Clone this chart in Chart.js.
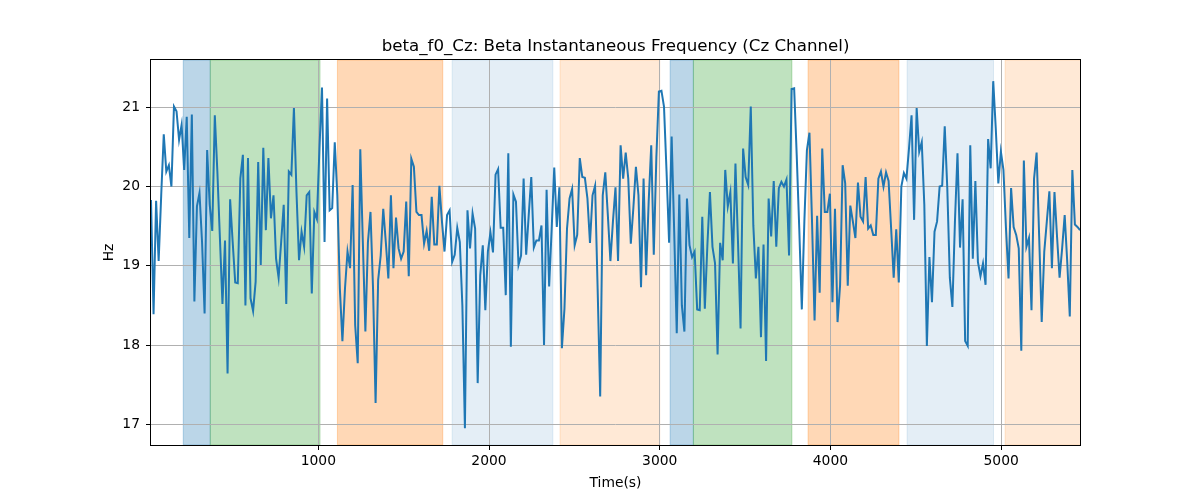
<!DOCTYPE html>
<html>
<head>
<meta charset="utf-8">
<script src="https://cdn.jsdelivr.net/npm/chart.js@4.4.1/dist/chart.umd.min.js"></script>
<style>
  html, body { margin: 0; padding: 0; background: #fff; }
</style>
</head>
<body>
<canvas id="chart" width="1200" height="500"></canvas>
<script>
// time axis: first sample, sample spacing (s)
const tStart = 20;
const tStep = 14.95;

const freq1 = [19.83, 18.39, 19.82, 19.06, 19.89, 20.66, 20.19, 20.27, 20.0, 21.01, 20.95, 20.59, 20.78, 20.21, 20.88, 19.35, 20.91, 18.55, 19.75, 19.92, 19.3, 18.4, 20.46, 19.77, 19.44, 20.9, 20.19, 19.35, 18.52, 19.32, 17.64, 19.84, 19.3, 18.79, 18.78, 20.1, 20.4, 18.5, 20.36, 18.59, 18.43, 18.8, 20.31, 19.01, 20.49, 19.45];
const freq2 = [20.36, 19.6, 19.89, 19.09, 18.85, 19.3, 19.77, 18.52, 20.19, 20.15, 20.99, 19.93, 19.07, 19.43, 19.24, 19.89, 19.93, 18.65, 19.68, 19.59, 20.48, 21.25, 19.3, 21.11, 19.7, 19.73, 20.56, 19.89, 18.71, 18.05, 18.71, 19.18, 18.97, 20.02, 18.25, 17.77, 20.47, 19.3, 18.17, 19.3, 19.68, 18.71, 17.27, 18.82, 19.13, 19.72];
const freq3 = [19.3, 18.84, 19.89, 18.97, 19.61, 19.22, 19.09, 19.18, 19.81, 18.87, 20.35, 20.25, 19.68, 19.64, 19.64, 19.28, 19.44, 19.19, 19.87, 19.27, 19.27, 20.01, 19.56, 19.18, 19.64, 19.7, 19.05, 19.14, 19.48, 19.3, 18.5, 16.95, 19.7, 19.22, 19.66, 19.47, 17.52, 18.88, 19.26, 18.44, 19.18, 19.42, 19.17, 20.15, 20.22, 19.48, 19.48, 18.63];
const freq4 = [20.42, 17.98, 19.9, 19.81, 19.01, 19.13, 20.1, 19.14, 19.64, 20.12, 19.23, 19.32, 19.32, 19.51, 18.0, 19.96, 18.74, 19.47, 20.24, 19.49, 19.99, 17.96, 18.46, 19.47, 19.85, 19.97, 19.26, 19.39, 20.36, 20.12, 20.11, 19.85, 19.29, 19.89, 20.01, 18.71, 17.35, 19.89, 20.18, 19.64, 19.06, 19.56, 19.99, 19.06, 20.52, 20.1, 20.43];
const freq5 = [20.1, 19.28, 19.73, 20.25, 19.89, 18.73, 20.1, 18.88, 19.81, 20.52, 19.14, 20.36, 21.2, 21.21, 21.01, 20.19, 19.29, 20.63, 19.43, 18.15, 19.9, 18.5, 18.17, 19.85, 19.26, 19.11, 19.18, 18.45, 18.44, 19.62, 18.46, 19.26, 19.93, 19.24, 19.03, 17.88, 19.29, 19.07, 20.21, 19.75, 19.93, 19.03, 20.29, 19.3, 18.21, 20.48, 20.12];
const freq6 = [20.02, 21.01, 19.51, 18.84, 19.24, 18.1, 19.27, 17.8, 19.85, 19.37, 20.07, 19.24, 19.98, 20.06, 20.0, 20.09, 19.13, 21.23, 21.24, 20.4, 19.47, 18.45, 19.56, 20.46, 20.68, 19.56, 18.31, 19.63, 18.66, 20.48, 19.68, 19.68, 19.91, 18.54, 19.72, 18.29, 18.76, 20.27, 20.04, 18.75, 19.76, 19.56, 19.35, 20.05, 19.62, 19.56, 20.12, 19.47];
const freq7 = [19.51, 19.39, 19.39, 20.1, 20.19, 20.0, 20.18, 20.07, 19.47, 18.85, 19.46, 18.79, 20.0, 20.17, 20.1, 20.48, 20.9, 19.58, 20.99, 20.44, 20.56, 19.77, 17.99, 19.11, 18.54, 19.43, 19.56, 20.0, 20.01, 20.76, 19.98, 18.85, 18.48, 19.56, 20.42, 19.23, 19.84, 18.05, 17.99, 20.52, 19.09, 20.07, 19.05, 18.87, 19.03, 18.76, 20.6, 20.23];
const freq8 = [21.33, 20.73, 20.04, 20.44, 20.21, 19.47, 18.84, 19.98, 19.49, 19.39, 19.22, 17.93, 20.33, 19.24, 19.35, 18.44, 20.1, 20.43, 19.37, 18.29, 19.18, 19.56, 19.94, 18.97, 19.93, 19.37, 18.85, 19.22, 19.64, 19.05, 18.36, 20.21, 19.52, 19.49, 19.45];

// shaded intervals (s)
const spanStart = [209, 367, 1112, 1784, 2416, 3061, 3197, 3869, 4449, 5023];
const spanEnd   = [367, 1010, 1729, 2374, 3000, 3197, 3774, 4401, 4955, 5470];
const spanKind  = ['blue', 'green', 'orange', 'lightblue', 'lightorange', 'blue', 'green', 'orange', 'lightblue', 'lightorange'];

const xTicks = [1000, 2000, 3000, 4000, 5000];
const yTicks = [17, 18, 19, 20, 21];

const spanColors = {
    blue: 'rgba(31, 119, 180, 0.3)',
    green: 'rgba(44, 160, 44, 0.3)',
    orange: 'rgba(255, 127, 14, 0.3)',
    lightblue: 'rgba(31, 119, 180, 0.12)',
    lightorange: 'rgba(255, 127, 14, 0.17)'
};

const freq = [].concat(freq1, freq2, freq3, freq4, freq5, freq6, freq7, freq8);
const points = freq.map((v, i) => ({x: tStart + i * tStep, y: v}));
const xMax = points[points.length - 1].x;

const FONT = 'DejaVu Sans';
const TICK_SIZE = 13.89;  // 10pt at 100dpi

// draw the shaded bands behind the grid
const spanPlugin = {
    id: 'spans',
    beforeDraw(chart) {
        const ctx = chart.ctx;
        const area = chart.chartArea;
        const xs = chart.scales.x;
        ctx.save();
        ctx.beginPath();
        ctx.rect(area.left, area.top, area.right - area.left, area.bottom - area.top);
        ctx.clip();
        for (let i = 0; i < spanStart.length; i++) {
            const x1 = xs.getPixelForValue(spanStart[i]);
            const x2 = xs.getPixelForValue(spanEnd[i]);
            ctx.fillStyle = spanColors[spanKind[i]];
            ctx.fillRect(x1, area.top, x2 - x1, area.bottom - area.top);
            ctx.strokeStyle = spanColors[spanKind[i]];
            ctx.lineWidth = 1;
            ctx.strokeRect(x1, area.top, x2 - x1, area.bottom - area.top);
        }
        ctx.restore();
    }
};

// black frame round the plot like matplotlib spines
const framePlugin = {
    id: 'frame',
    afterDatasetsDraw(chart) {
        const ctx = chart.ctx;
        const a = chart.chartArea;
        ctx.save();
        ctx.strokeStyle = '#000';
        ctx.lineWidth = 1;
        ctx.strokeRect(Math.round(a.left) - 0.5, Math.round(a.top) - 0.5, Math.round(a.right - a.left) + 1, Math.round(a.bottom - a.top) + 1);
        ctx.restore();
    }
};

new Chart(document.getElementById('chart'), {
    type: 'line',
    data: {
        datasets: [{
            label: 'beta_f0_Cz',
            data: points,
            borderColor: '#1f77b4',
            borderWidth: 2,
            pointRadius: 0,
            tension: 0,
            fill: false
        }]
    },
    options: {
        responsive: false,
        animation: false,
        layout: { padding: { left: 98, right: 120, top: 37, bottom: 0 } },
        plugins: {
            legend: { display: false },
            tooltip: { enabled: false },
            title: {
                display: true,
                fullSize: false,
                text: 'beta_f0_Cz: Beta Instantaneous Frequency (Cz Channel)',
                color: '#000',
                font: { family: FONT, size: 16.67, weight: 'normal', lineHeight: 1.2 },
                padding: { top: 0, bottom: 3 }
            }
        },
        scales: {
            x: {
                type: 'linear',
                min: tStart,
                max: xMax,
                afterBuildTicks: (scale) => { scale.ticks = xTicks.map(v => ({value: v})); },
                afterFit: (scale) => { scale.height = 55; },
                grid: { color: '#b0b0b0', lineWidth: 1, tickColor: '#000', tickLength: 5 },
                border: { display: false },
                ticks: {
                    color: '#000',
                    font: { family: FONT, size: TICK_SIZE },
                    padding: 3,
                    maxRotation: 0,
                    callback: (v) => String(v)
                },
                title: {
                    display: true,
                    text: 'Time(s)',
                    color: '#000',
                    font: { family: FONT, size: TICK_SIZE },
                    padding: { top: 0, bottom: 8.5 }
                }
            },
            y: {
                min: 16.739,
                max: 21.597,
                afterBuildTicks: (scale) => { scale.ticks = yTicks.map(v => ({value: v})); },
                afterFit: (scale) => { scale.width = 53; },
                grid: { color: '#b0b0b0', lineWidth: 1, tickColor: '#000', tickLength: 5 },
                border: { display: false },
                ticks: {
                    color: '#000',
                    font: { family: FONT, size: TICK_SIZE },
                    padding: 6,
                    callback: (v) => String(v)
                },
                title: {
                    display: true,
                    text: 'Hz',
                    color: '#000',
                    font: { family: FONT, size: TICK_SIZE },
                    padding: { top: 3, bottom: 0 }
                }
            }
        }
    },
    plugins: [spanPlugin, framePlugin]
});
</script>
</body>
</html>
